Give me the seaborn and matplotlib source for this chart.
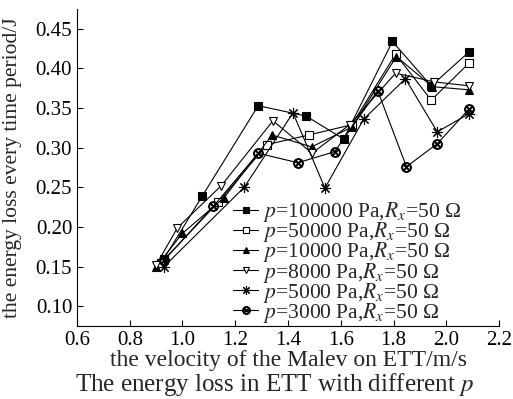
import numpy as np
import pandas as pd
import matplotlib
matplotlib.use("Agg")
import matplotlib.pyplot as plt
import seaborn as sns

# values (velocity m/s, energy loss J)
x_100000 = [0.93, 1.075, 1.287, 1.468, 1.611, 1.796, 1.943, 2.087]
y_100000 = [0.160, 0.239, 0.353, 0.340, 0.311, 0.434, 0.378, 0.421]

x_50000 = [0.92, 1.135, 1.321, 1.479, 1.642, 1.808, 1.943, 2.087]
y_50000 = [0.155, 0.231, 0.304, 0.316, 0.329, 0.418, 0.360, 0.407]

x_10000 = [0.90, 1.000, 1.158, 1.340, 1.490, 1.642, 1.811, 1.947, 2.087]
y_10000 = [0.150, 0.192, 0.237, 0.316, 0.301, 0.326, 0.415, 0.377, 0.373]

x_8000 = [0.90, 0.981, 1.147, 1.343, 1.491, 1.634, 1.808, 1.955, 2.087]
y_8000 = [0.152, 0.199, 0.252, 0.334, 0.293, 0.329, 0.394, 0.383, 0.378]

x_5000 = [0.93, 1.234, 1.419, 1.540, 1.687, 1.845, 1.966, 2.087]
y_5000 = [0.150, 0.250, 0.344, 0.249, 0.336, 0.387, 0.320, 0.343]

x_3000 = [0.93, 1.117, 1.287, 1.438, 1.577, 1.740, 1.849, 1.966, 2.087]
y_3000 = [0.158, 0.226, 0.293, 0.281, 0.295, 0.372, 0.276, 0.305, 0.349]

labels = [r"$p$=100000 Pa,$R_x$=50 Ω", r"$p$=50000 Pa,$R_x$=50 Ω",
          r"$p$=10000 Pa,$R_x$=50 Ω", r"$p$=8000 Pa,$R_x$=50 Ω",
          r"$p$=5000 Pa,$R_x$=50 Ω", r"$p$=3000 Pa,$R_x$=50 Ω"]

series = [(x_100000, y_100000), (x_50000, y_50000), (x_10000, y_10000),
          (x_8000, y_8000), (x_5000, y_5000), (x_3000, y_3000)]

# marker, face colour, size
styles = [('s', 'black', 5.5), ('s', 'white', 5.5), ('^', 'black', 6),
          ('v', 'white', 6), ((8, 2, 0), 'black', 8), (r'$\otimes$', 'black', 7)]

sns.set_style("ticks")
plt.rcParams['font.family'] = ['Liberation Serif', 'DejaVu Serif']
plt.rcParams['mathtext.fontset'] = 'stix'

fig = plt.figure(figsize=(5.13, 3.99), dpi=100)
ax = fig.add_axes([77 / 513, 1 - 326 / 399, 422 / 513, 317 / 399])

for (xs, ys), lab, (mk, fc, ms) in zip(series, labels, styles):
    df = pd.DataFrame({'v': xs, 'e': ys})
    sns.lineplot(data=df, x='v', y='e', ax=ax, color='black', linewidth=0.8,
                 marker=mk, markersize=ms, markerfacecolor=fc,
                 markeredgecolor='black', markeredgewidth=0.8,
                 estimator=None, sort=False, label=lab)

ax.set_xlim(0.6, 2.2)
ax.set_ylim(0.075, 0.475)
ax.set_xticks(np.arange(0.6, 2.21, 0.2))
ax.set_yticks(np.arange(0.10, 0.451, 0.05))
ax.set_xticklabels(["%.1f" % t for t in np.arange(0.6, 2.21, 0.2)])
ax.set_yticklabels(["%.2f" % t for t in np.arange(0.10, 0.451, 0.05)])
ax.tick_params(direction='in', length=4, width=0.8, labelsize=15, colors='black')
for s in ['left', 'bottom']:
    ax.spines[s].set_linewidth(0.8)
    ax.spines[s].set_color('black')
sns.despine(ax=ax)

ax.set_xlabel("the velocity of the Malev on ETT/m/s", fontsize=17, labelpad=0)
ax.set_ylabel("the energy loss every time period/J", fontsize=15.5, labelpad=10)

ax.legend(loc='upper left', bbox_to_anchor=(0.37, 0.397), frameon=False,
          fontsize=15.5, borderpad=0, borderaxespad=0, handlelength=1.15,
          handletextpad=0.25, labelspacing=-0.18, markerscale=0.8)

fig.text(75 / 513, 0.02, "The energy loss in ETT with different $p$",
         ha='left', va='baseline', fontsize=18)

fig.savefig("out.png", dpi=100)
